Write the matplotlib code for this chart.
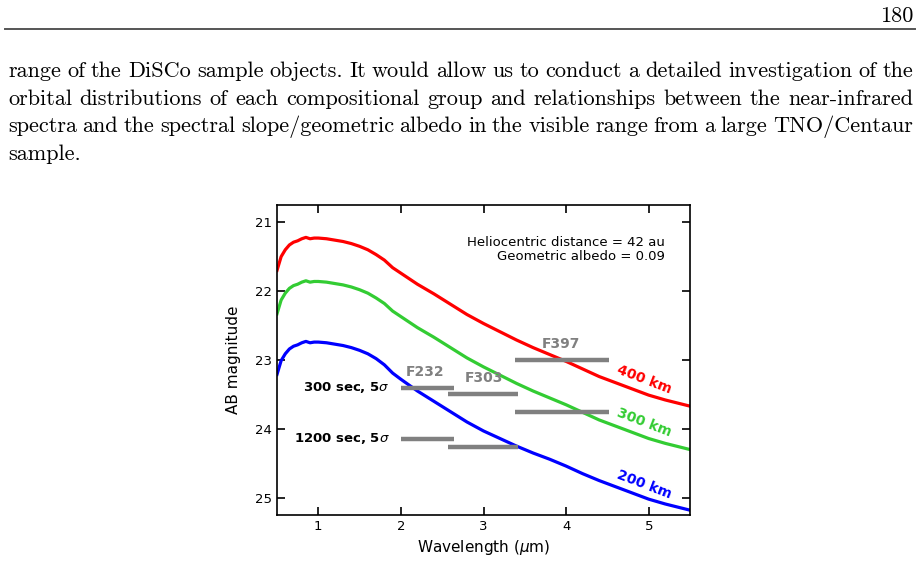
import matplotlib
matplotlib.use('Agg')
import matplotlib.pyplot as plt
from matplotlib.lines import Line2D

# model spectra (AB mag)
wavelength = [0.50, 0.55, 0.60, 0.65, 0.70, 0.75, 0.80, 0.85, 0.90, 0.95, 1.00,
              1.10, 1.20, 1.30, 1.40, 1.50, 1.60, 1.70, 1.80, 1.90, 2.00,
              2.20, 2.40, 2.60, 2.80, 3.00, 3.20, 3.40, 3.60, 3.80, 4.00,
              4.20, 4.40, 4.60, 4.80, 5.00, 5.20, 5.40, 5.50]
mag_400km = [21.70, 21.50, 21.40, 21.33, 21.29, 21.27, 21.24, 21.22, 21.24, 21.23, 21.23,
             21.24, 21.26, 21.28, 21.31, 21.35, 21.40, 21.47, 21.55, 21.66, 21.74,
             21.90, 22.04, 22.19, 22.34, 22.47, 22.59, 22.71, 22.82, 22.92, 23.02,
             23.13, 23.24, 23.33, 23.42, 23.51, 23.58, 23.64, 23.67]
mag_300km = [22.33, 22.13, 22.03, 21.96, 21.92, 21.90, 21.87, 21.85, 21.87, 21.86, 21.86,
             21.87, 21.89, 21.91, 21.94, 21.98, 22.03, 22.10, 22.18, 22.29, 22.37,
             22.53, 22.67, 22.82, 22.97, 23.10, 23.22, 23.34, 23.45, 23.55, 23.65,
             23.76, 23.87, 23.96, 24.05, 24.14, 24.21, 24.27, 24.30]
mag_200km = [23.21, 23.01, 22.91, 22.84, 22.80, 22.78, 22.75, 22.73, 22.75, 22.74, 22.74,
             22.75, 22.77, 22.79, 22.82, 22.86, 22.91, 22.98, 23.07, 23.19, 23.28,
             23.45, 23.60, 23.75, 23.90, 24.03, 24.14, 24.25, 24.35, 24.44, 24.54,
             24.65, 24.75, 24.84, 24.93, 25.02, 25.09, 25.15, 25.18]

# filter limiting magnitudes
filters = ['F232', 'F303', 'F397']
filter_lo = [2.00, 2.57, 3.38]
filter_hi = [2.64, 3.42, 4.52]
lim_300s = [23.40, 23.50, 23.00]
lim_1200s = [24.15, 24.26, 23.75]
label_x = [2.29, 3.00, 3.94]
label_y = [23.17, 23.26, 22.77]

page_lines = [
    "range of the DiSCo sample objects. It would allow us to conduct a detailed investigation of the",
    "orbital distributions of each compositional group and relationships between the near-infrared",
    "spectra and the spectral slope/geometric albedo in the visible range from a large TNO/Centaur",
    "sample.",
]

W, H = 921, 566
fig = plt.figure(figsize=(W / 100, H / 100), dpi=100)
renderer = fig.canvas.get_renderer()

# page header
fig.text(913 / W, 1 - 22 / H, '180', family='cmr10', fontsize=16, ha='right', va='baseline')
fig.add_artist(Line2D([5 / W, 915 / W], [1 - 28.5 / H, 1 - 28.5 / H], color='#555555', lw=1.4))

# justified paragraph
left, right = 8, 913
baselines = [77, 105, 132, 160]
for line, yb in zip(page_lines, baselines):
    words = line.split(' ')
    texts = [fig.text(0, 1 - yb / H, w, family='cmr10', fontsize=16, va='baseline') for w in words]
    widths = [t.get_window_extent(renderer).width for t in texts]
    if line == page_lines[-1]:
        gap = 6.0
    else:
        gap = (right - left - sum(widths)) / (len(words) - 1)
    x = left
    for t, w in zip(texts, widths):
        t.set_x(x / W)
        x += w + gap

# chart
ax = fig.add_axes([277 / W, 1 - 515 / H, 413 / W, 310 / H])
ax.plot(wavelength, mag_400km, color='red', lw=2.3)
ax.plot(wavelength, mag_300km, color='#33cc33', lw=2.3)
ax.plot(wavelength, mag_200km, color='blue', lw=2.3)

for lo, hi, m1, m2 in zip(filter_lo, filter_hi, lim_300s, lim_1200s):
    ax.plot([lo, hi], [m1, m1], color='gray', lw=3.2, solid_capstyle='butt')
    ax.plot([lo, hi], [m2, m2], color='gray', lw=3.2, solid_capstyle='butt')

for name, lx, ly in zip(filters, label_x, label_y):
    ax.text(lx, ly, name, color='gray', fontsize=10, fontweight='bold', ha='center', va='center')

ax.text(1.86, 23.40, r'300 sec, 5$\sigma$', fontsize=9.5, fontweight='bold', ha='right', va='center')
ax.text(1.86, 24.14, r'1200 sec, 5$\sigma$', fontsize=9.5, fontweight='bold', ha='right', va='center')

ax.text(4.95, 23.29, '400 km', color='red', fontsize=10, fontweight='bold',
        rotation=-21, ha='center', va='center')
ax.text(4.95, 23.91, '300 km', color='#33cc33', fontsize=10, fontweight='bold',
        rotation=-21, ha='center', va='center')
ax.text(4.95, 24.81, '200 km', color='blue', fontsize=10, fontweight='bold',
        rotation=-21, ha='center', va='center')

ax.text(0.94, 0.856, 'Heliocentric distance = 42 au\nGeometric albedo = 0.09',
        transform=ax.transAxes, ha='right', va='center', fontsize=9.5, linespacing=1.1)

ax.set_xlim(0.5, 5.5)
ax.set_ylim(25.25, 20.75)
ax.set_xticks([1, 2, 3, 4, 5])
ax.set_yticks([21, 22, 23, 24, 25])
ax.tick_params(direction='in', length=6, width=1.2, top=True, right=True, labelsize=9.5)
for s in ax.spines.values():
    s.set_linewidth(1.2)
ax.set_xlabel(r'Wavelength ($\mu$m)', fontsize=11)
ax.set_ylabel('AB magnitude', fontsize=11, labelpad=10)

fig.savefig('out.png', dpi=100)
